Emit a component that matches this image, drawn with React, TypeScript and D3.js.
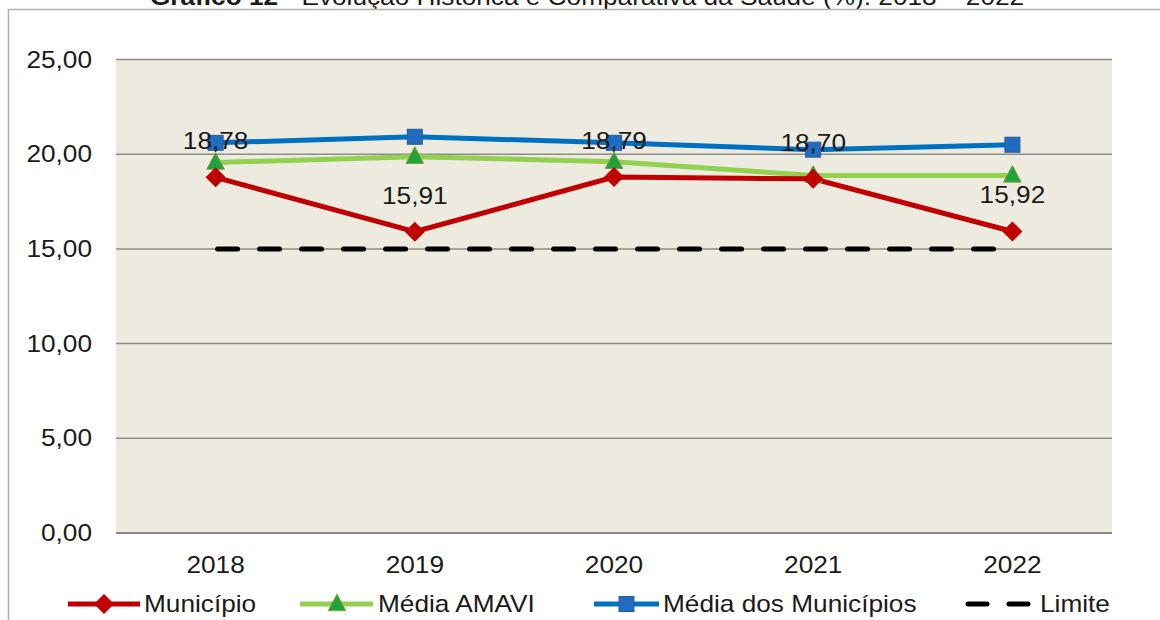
import React from "react";
import * as d3 from "d3";

const years = ["2018", "2019", "2020", "2021", "2022"];
const municipio = [18.78, 15.91, 18.79, 18.7, 15.92];
const mediaAmavi = [19.56, 19.87, 19.6, 18.88, 18.88];
const mediaMunicipios = [20.6, 20.92, 20.6, 20.24, 20.5];
const limite = [15, 15, 15, 15, 15];
const yTicks = [0, 5, 10, 15, 20, 25];
const title = "Gráfico 12 - Evolução Histórica e Comparativa da Saúde (%): 2018 – 2022";

const W = 1160;
const H = 620;
const FONT = "'Liberation Sans', Arial, sans-serif";
const fmt = (v: number) => v.toFixed(2).replace(".", ",");

export default function App() {
  const x = d3.scaleBand<string>().domain(years).range([116, 1112]);
  const cx = (d: string) => (x(d) as number) + x.bandwidth() / 2;
  const y = d3.scaleLinear().domain([0, 25]).range([533, 59.5]);
  const line = d3
    .line<number>()
    .x((_, i) => cx(years[i]))
    .y((v) => y(v));

  const diamond = (px: number, py: number, r: number) =>
    `M${px},${py - r}L${px + r},${py}L${px},${py + r}L${px - r},${py}Z`;
  const tri = (px: number, py: number, s: number) =>
    `M${px},${py - s * 0.62}L${px + s * 0.55},${py + s * 0.42}L${px - s * 0.55},${py + s * 0.42}Z`;

  const textStyle: React.CSSProperties = { fontFamily: FONT };
  const stretch = 1.14;

  const T = ({ tx, ty, anchor, children, size = 23, weight = 400 }: any) => (
    <text
      transform={`translate(${tx},${ty}) scale(${stretch},1)`}
      textAnchor={anchor}
      fontSize={size}
      fontWeight={weight}
      fill="#1a1a1a"
      style={textStyle}
    >
      {children}
    </text>
  );

  const [t1, t2] = [title.slice(0, 10), title.slice(10)];

  return (
    <svg
      width={W}
      height={H}
      style={{ position: "absolute", left: 0, top: 0, background: "#fff" }}
    >
      {/* title (cut off at top) */}
      <T tx={587} ty={5} anchor="middle" size={23}>
        <tspan fontWeight={700}>{t1}</tspan>
        <tspan>{t2}</tspan>
      </T>
      {/* outer border */}
      <path d={`M8.5,${H}V9.5H${W}`} fill="none" stroke="#b0b0b0" strokeWidth={1.5} />

      {/* plot area */}
      <rect x={116} y={59.5} width={996} height={533 - 59.5} fill="#edeae0" />
      {yTicks.map((t) => (
        <line
          key={t}
          x1={116}
          x2={1112}
          y1={y(t)}
          y2={y(t)}
          stroke={t === 0 ? "#8a8a8a" : "#8c8c8c"}
          strokeWidth={t === 0 ? 2 : 1.5}
        />
      ))}
      {yTicks.map((t) => (
        <T key={t} tx={92} ty={y(t) + 8} anchor="end">
          {fmt(t)}
        </T>
      ))}
      {years.map((yr) => (
        <T key={yr} tx={cx(yr)} ty={573} anchor="middle">
          {yr}
        </T>
      ))}

      {/* Limite */}
      <path
        d={line(limite) as string}
        fill="none"
        stroke="#000"
        strokeWidth={5}
        strokeDasharray="20,22"
        strokeLinecap="round"
        transform="translate(2,0)"
      />
      {/* Média dos Municípios */}
      <path d={line(mediaMunicipios) as string} fill="none" stroke="#0070c0" strokeWidth={5} />
      {/* Média AMAVI */}
      <path d={line(mediaAmavi) as string} fill="none" stroke="#92d050" strokeWidth={5} />
      {/* Município */}
      <path d={line(municipio) as string} fill="none" stroke="#c00000" strokeWidth={5} />

      {mediaMunicipios.map((v, i) => (
        <rect
          key={"s" + i}
          x={cx(years[i]) - 7.5}
          y={y(v) - 7.5}
          width={15}
          height={15}
          fill="#1f6cc0"
          stroke="#2c5a96"
          strokeWidth={1}
        />
      ))}
      {mediaAmavi.map((v, i) => (
        <path key={"t" + i} d={tri(cx(years[i]), y(v), 16)} fill="#1fa33c" stroke="#8a9a3a" strokeWidth={1} />
      ))}
      {municipio.map((v, i) => (
        <path key={"d" + i} d={diamond(cx(years[i]), y(v), 10)} fill="#c00000" />
      ))}

      {municipio.map((v, i) => (
        <T key={"l" + i} tx={cx(years[i])} ty={y(v) - 28} anchor="middle">
          {fmt(v)}
        </T>
      ))}

      {/* legend */}
      <g>
        <line x1={68} x2={140} y1={604} y2={604} stroke="#c00000" strokeWidth={5} />
        <path d={diamond(104, 604, 10)} fill="#c00000" />
        <T tx={144} ty={612} anchor="start">Município</T>

        <line x1={300} x2={373} y1={604} y2={604} stroke="#92d050" strokeWidth={5} />
        <path d={tri(337, 604, 16)} fill="#1fa33c" stroke="#8a9a3a" strokeWidth={1} />
        <T tx={378} ty={612} anchor="start">Média AMAVI</T>

        <line x1={594} x2={659} y1={604} y2={604} stroke="#0070c0" strokeWidth={5} />
        <rect x={619} y={596.5} width={15} height={15} fill="#1f6cc0" stroke="#2c5a96" strokeWidth={1} />
        <T tx={663} ty={612} anchor="start">Média dos Municípios</T>

        <line x1={968} x2={987} y1={604} y2={604} stroke="#000" strokeWidth={5} strokeLinecap="round" />
        <line x1={1009} x2={1028} y1={604} y2={604} stroke="#000" strokeWidth={5} strokeLinecap="round" />
        <T tx={1040} ty={612} anchor="start">Limite</T>
      </g>
    </svg>
  );
}
